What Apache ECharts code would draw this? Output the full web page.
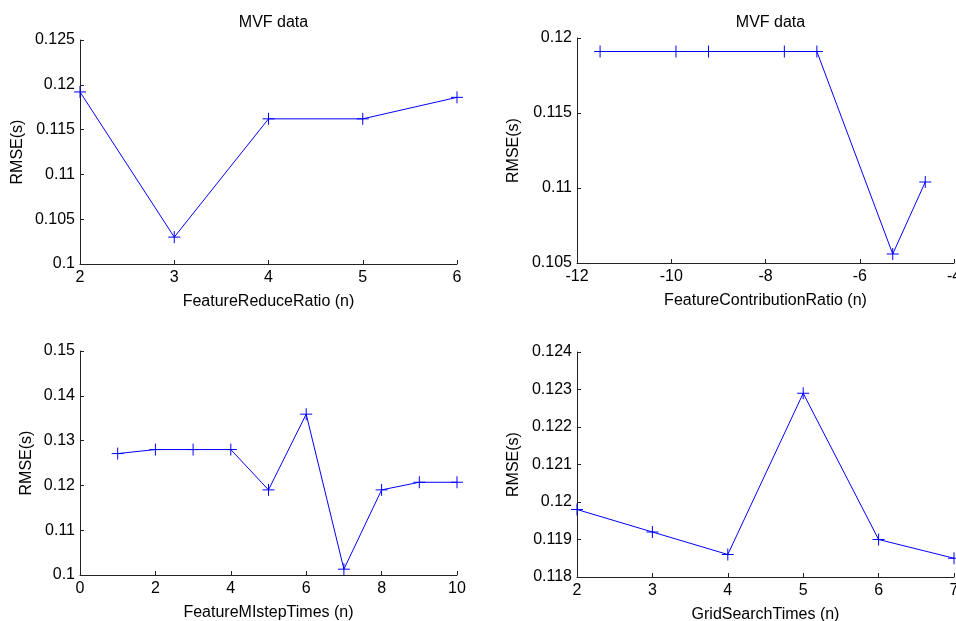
<!DOCTYPE html>
<html lang="en">
<head>
    <meta charset="UTF-8">
    <title>MVF data</title>
    <script src="https://cdn.jsdelivr.net/npm/echarts@6/dist/echarts.min.js"></script>
    <style>
        html, body { margin: 0; padding: 0; background: #fff; }
        #chart { width: 956px; height: 621px; }
    </style>
</head>
<body>
    <div id="chart"></div>

    <script>
        // subplot 1
        const reduceX = [2, 3, 4, 5, 6];
        const reduceY = [0.1192, 0.1030, 0.1162, 0.1162, 0.1186];
        // subplot 2 (log of ratio)
        const contribX = [-11.51, -9.90, -9.21, -7.60, -6.91, -5.30, -4.61];
        const contribY = [0.1191, 0.1191, 0.1191, 0.1191, 0.1191, 0.1056, 0.1104];
        // subplot 3
        const mlstepX = [1, 2, 3, 4, 5, 6, 7, 8, 9, 10];
        const mlstepY = [0.1271, 0.1280, 0.1280, 0.1280, 0.1190, 0.1359, 0.1013, 0.1190, 0.1207, 0.1207];
        // subplot 4
        const gridX = [2, 3, 4, 5, 6, 7];
        const gridY = [0.1198, 0.1192, 0.1186, 0.1229, 0.1190, 0.1185];

        const font = 'Liberation Sans, Arial, Helvetica, sans-serif';
        const axisColor = '#222';
        const blue = '#0000ff';
        const plus = 'path://M6,0L6,12M0,6L12,6';

        const fmt = v => String(parseFloat(v.toFixed(6)));

        function xAx(idx, name, min, max, interval) {
            return {
                type: 'value', gridIndex: idx, min: min, max: max, interval: interval,
                name: name, nameLocation: 'middle', nameGap: 30,
                nameTextStyle: { fontFamily: font, fontSize: 16, color: '#000' },
                axisLine: { onZero: false, lineStyle: { color: axisColor, width: 1 } },
                axisTick: { inside: true, length: 4, lineStyle: { color: axisColor } },
                axisLabel: { fontFamily: font, fontSize: 16, color: '#000', margin: 6, formatter: fmt },
                splitLine: { show: false }
            };
        }

        function yAx(idx, min, max, interval, gap) {
            return {
                type: 'value', gridIndex: idx, min: min, max: max, interval: interval,
                name: 'RMSE(s)', nameLocation: 'middle', nameGap: gap,
                nameTextStyle: { fontFamily: font, fontSize: 16, color: '#000' },
                axisLine: { onZero: false, lineStyle: { color: axisColor, width: 1 } },
                axisTick: { inside: true, length: 4, lineStyle: { color: axisColor } },
                axisLabel: { fontFamily: font, fontSize: 16, color: '#000', margin: 5, formatter: fmt },
                splitLine: { show: false }
            };
        }

        function line(idx, xs, ys) {
            return {
                type: 'line', xAxisIndex: idx, yAxisIndex: idx,
                data: xs.map((x, i) => [x, ys[i]]),
                symbol: plus, symbolSize: 12,
                showAllSymbol: true,
                lineStyle: { color: blue, width: 1 },
                itemStyle: { color: blue, borderColor: blue, borderWidth: 1 },
                clip: false,
                animation: false
            };
        }

        const chart = echarts.init(document.getElementById('chart'));
        chart.setOption({
            animation: false,
            title: [
                { text: 'MVF data', left: 268.5, top: 10, textAlign: 'center',
                  textStyle: { fontFamily: font, fontSize: 16, fontWeight: 'normal', color: '#000' } },
                { text: 'MVF data', left: 765.5, top: 10, textAlign: 'center',
                  textStyle: { fontFamily: font, fontSize: 16, fontWeight: 'normal', color: '#000' } }
            ],
            grid: [
                { left: 80, top: 40, width: 377, height: 224, outerBoundsMode: 'none', containLabel: false },
                { left: 577, top: 38, width: 377, height: 225, outerBoundsMode: 'none', containLabel: false },
                { left: 80, top: 351, width: 377, height: 224, outerBoundsMode: 'none', containLabel: false },
                { left: 577, top: 352, width: 377, height: 225, outerBoundsMode: 'none', containLabel: false }
            ],
            xAxis: [
                xAx(0, 'FeatureReduceRatio (n)', 2, 6, 1),
                xAx(1, 'FeatureContributionRatio (n)', -12, -4, 2),
                xAx(2, 'FeatureMIstepTimes (n)', 0, 10, 2),
                xAx(3, 'GridSearchTimes (n)', 2, 7, 1)
            ],
            yAxis: [
                yAx(0, 0.1, 0.125, 0.005, 54),
                yAx(1, 0.105, 0.12, 0.005, 55),
                yAx(2, 0.1, 0.15, 0.01, 45),
                yAx(3, 0.118, 0.124, 0.001, 55)
            ],
            series: [
                line(0, reduceX, reduceY),
                line(1, contribX, contribY),
                line(2, mlstepX, mlstepY),
                line(3, gridX, gridY)
            ]
        });
    </script>
</body>
</html>
